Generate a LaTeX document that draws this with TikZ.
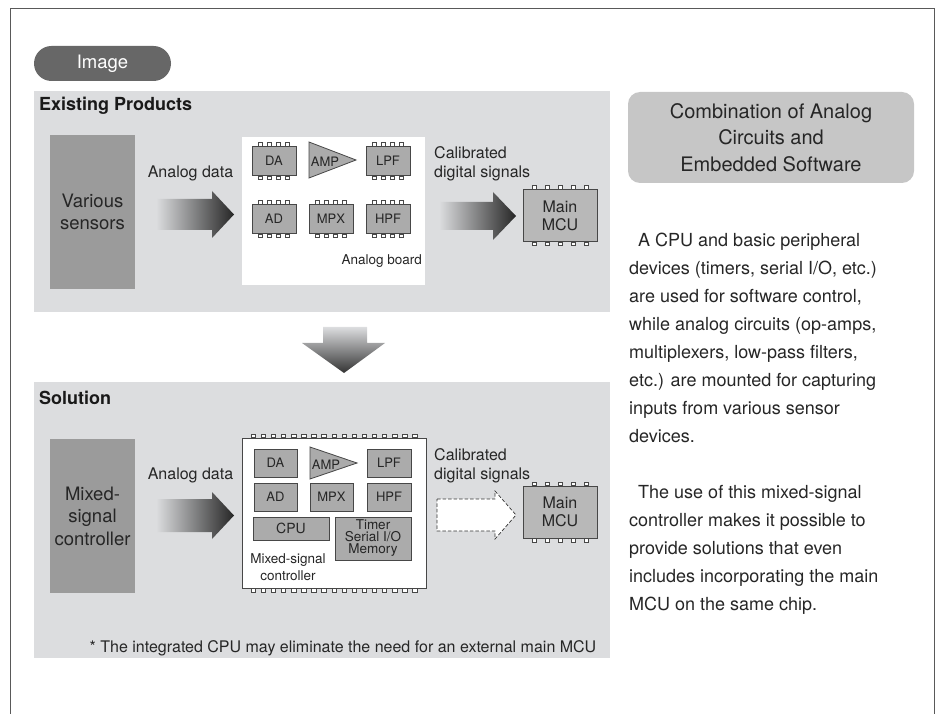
\documentclass[tikz,border=0pt]{standalone}
\usepackage{fontspec}
\setmainfont{TeX Gyre Heros}
\usetikzlibrary{calc}
\usetikzlibrary{positioning}
\definecolor{panelgray}{HTML}{DCDDDF}
\definecolor{blockgray}{HTML}{9B9B9B}
\definecolor{chipgray}{HTML}{ABABAB}
\definecolor{pillgray}{HTML}{676767}
\definecolor{boxgray}{HTML}{C6C6C6}
\definecolor{linegray}{HTML}{474747}
\newcommand{\fs}[2]{\fontsize{#1}{#2}\selectfont}
% pins above and below a chip: node, count, pitch
\newcommand{\chippins}[3]{%
	\foreach \k in {1,...,#2}{%
		\draw[chippin] ($(#1.north)+({(\k-(#2+1)/2)*#3-2.2},0)$) rectangle ++(4.4,-3.4);
		\draw[chippin] ($(#1.south)+({(\k-(#2+1)/2)*#3-2.2},0)$) rectangle ++(4.4,3.4);
	}%
}
\tikzset{
	frame/.style={
		draw=black!65,
		line width=1pt,
	},
	pill/.style={
		fill=pillgray,
		text=white,
		rounded corners=17.5pt,
		minimum width=137pt,
		minimum height=35pt,
		inner sep=0pt,
		font=\fs{18.5}{20},
	},
	heading/.style={
		anchor=base west,
		inner sep=0pt,
		text=black!90,
		font=\bfseries\fs{18}{20},
	},
	block/.style={
		fill=blockgray,
		minimum width=85pt,
		minimum height=154pt,
		inner sep=0pt,
		align=center,
		text=black!85,
		font=\fs{18.5}{22.5},
	},
	txt/.style={
		inner sep=0pt,
		align=left,
		text=black!85,
		font=\fs{16}{19},
	},
	chip/.style={
		draw=linegray,
		fill=chipgray,
		line width=0.8pt,
		minimum width=44pt,
		minimum height=29pt,
		inner sep=0pt,
		text=black!85,
		font=\fs{13}{13},
	},
	chippin/.style={
		draw=linegray,
		fill=white,
		line width=0.6pt,
	},
	amp/.style={
		draw=linegray,
		fill=chipgray,
		line width=0.8pt,
	},
	mcu/.style={
		chip,
		fill=chipgray!85,
		minimum width=74pt,
		minimum height=52pt,
		align=center,
		font=\fs{16}{18},
	},
	flow/.style={
		left color=panelgray,
		right color=black!85,
	},
	hollow/.style={
		draw=black!80,
		fill=white,
		line width=0.7pt,
		dash pattern=on 3.5pt off 2pt,
	},
	combo/.style={
		fill=boxgray,
		rounded corners=12pt,
		minimum width=286pt,
		minimum height=91pt,
		inner sep=0pt,
		align=center,
		text=black!85,
		font=\fs{20}{26.5},
	},
	body/.style={
		inner sep=0pt,
		align=left,
		text=black!85,
		font=\fs{18}{28},
	},
}

\begin{document}
\begin{tikzpicture}[x=1pt,y=-1pt]
	\useasboundingbox (0,0) rectangle (938,714);

	\draw[frame] (10,714) -- (10,9) -- (934,9) -- (934,714);

	\node[pill] (img) at (102.5,63.5) {Image};

	% existing products
	\fill[panelgray] (34,91) rectangle (610,312);
	\node[heading] (exhead) at (39,110.5) {Existing Products};
	\node[block] (sensors) at (92.5,212) {Various\\sensors};
	\node[txt, anchor=base] (adata1) at (190.5,178) {Analog data};
	\shade[flow] (156,199) -- (212,199) -- (212,191) -- (234,214.5) -- (212,238) -- (212,230) -- (156,230) -- cycle;

	\fill[white] (242,137) rectangle (425,285);
	\node[chip] (da1) at (274,161) {DA};
	\node[chip] (lpf1) at (388,161) {LPF};
	\node[chip] (ad1) at (274,219) {AD};
	\node[chip] (mpx1) at (331,219) {MPX};
	\node[chip] (hpf1) at (388,219) {HPF};
	\foreach \c in {da1,lpf1,ad1,mpx1,hpf1} {\chippins{\c}{4}{9}}
	\draw[amp] (309,142) -- (356,160) -- (309,178) -- cycle;
	\node[txt, font=\fs{13}{13}] (amp1) at (325,162) {AMP};
	\node[txt, anchor=base east, font=\fs{13.5}{16}] (board) at (422,265) {Analog board};

	\node[txt, anchor=base west] (calib1) at (434,177.5) {Calibrated\\digital signals};
	\shade[flow] (439,202) -- (493,202) -- (493,192) -- (516,216) -- (493,240) -- (493,230) -- (439,230) -- cycle;
	\node[mcu] (mcu1) at (560,215.5) {Main\\MCU};
	\chippins{mcu1}{5}{13}

	% down arrow
	\shade[top color=panelgray, bottom color=black!80] (323,327) -- (367,327) -- (367,343) -- (385,343) -- (344,373) -- (302,343) -- (323,343) -- cycle;

	% solution
	\fill[panelgray] (34,382) rectangle (610,658);
	\node[heading] (solhead) at (39,404) {Solution};
	\node[block] (mixed) at (92.5,516) {Mixed-\\signal\\controller};
	\node[txt, anchor=base] (adata2) at (190.5,479) {Analog data};
	\shade[flow] (156,499) -- (212,499) -- (212,492) -- (234,515.5) -- (212,539) -- (212,532) -- (156,532) -- cycle;

	\node[chip, fill=white, minimum width=184pt, minimum height=150pt] (msc) at (334,513) {};
	\chippins{msc}{17}{10.1}
	\node[chip, minimum width=43pt, minimum height=28pt] (da2) at (275.5,463) {DA};
	\node[chip, minimum width=44pt, minimum height=28pt] (lpf2) at (389,463) {LPF};
	\node[chip, minimum width=43pt, minimum height=28pt] (ad2) at (275.5,497) {AD};
	\node[chip, minimum width=43pt, minimum height=28pt] (mpx2) at (331.5,497) {MPX};
	\node[chip, minimum width=44pt, minimum height=28pt] (hpf2) at (389,497) {HPF};
	\draw[amp] (310,447) -- (357,463) -- (310,479) -- cycle;
	\node[txt, font=\fs{13}{13}] (amp2) at (326,465) {AMP};
	\node[chip, minimum width=76pt, minimum height=23pt, font=\fs{14}{14}] (cpu) at (291,528.5) {CPU};
	\node[chip, minimum width=76pt, minimum height=43pt, align=center, font=\fs{13.5}{12}] (timer) at (373,538.5) {Timer\\Serial I/O\\Memory};
	\node[txt, align=center, font=\fs{13.5}{17}] (msclabel) at (288,567) {Mixed-signal\\controller};

	\node[txt, anchor=base west] (calib2) at (434,479) {Calibrated\\digital signals};
	\draw[hollow] (437,499) -- (495,499) -- (495,491) -- (516,515) -- (495,539) -- (495,531) -- (437,531) -- cycle;
	\node[mcu] (mcu2) at (560,512) {Main\\MCU};
	\chippins{mcu2}{5}{13}

	\node[txt, anchor=base] (note) at (343,652) {* The integrated CPU may eliminate the need for an external main MCU};

	% right column
	\node[combo] (combo) at (771,137.5) {Combination of Analog\\Circuits and\\Embedded Software};
	\node[body, anchor=base west] (para1) at (629,442.5) {\hspace*{9pt}A CPU and basic peripheral\\devices (timers, serial I/O, etc.)\\are used for software control,\\while analog circuits (op-amps,\\multiplexers, low-pass filters,\\etc.) are mounted for capturing\\inputs from various sensor\\devices.};
	\node[body, anchor=base west] (para2) at (629,610.5) {\hspace*{9pt}The use of this mixed-signal\\controller makes it possible to\\provide solutions that even\\includes incorporating the main\\MCU on the same chip.};
\end{tikzpicture}
\end{document}
